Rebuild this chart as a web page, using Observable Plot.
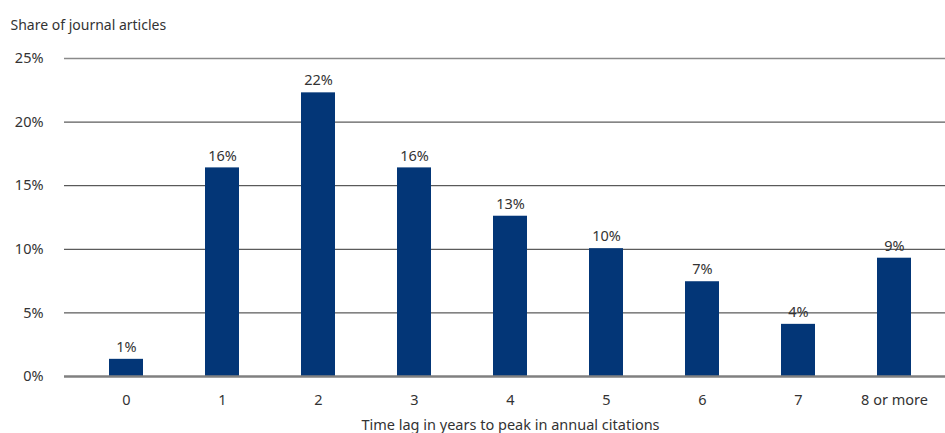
<!DOCTYPE html>
<html>
<head>
<meta charset="utf-8">
<script src="https://cdn.jsdelivr.net/npm/d3@7"></script>
<script src="https://cdn.jsdelivr.net/npm/@observablehq/plot@0.6"></script>
<style>
  html, body { margin: 0; padding: 0; background: #fff; }
  #chart svg { display: block; }
</style>
</head>
<body>
<div id="chart"></div>
<script>
const categories = ["0", "1", "2", "3", "4", "5", "6", "7", "8 or more"];
const values = [1.35, 16.4, 22.3, 16.4, 12.6, 10.05, 7.45, 4.1, 9.3];
const valueLabels = ["1%", "16%", "22%", "16%", "13%", "10%", "7%", "4%", "9%"];
const yTicks = [0, 5, 10, 15, 20, 25];
const yTitle = "Share of journal articles";
const xTitle = "Time lag in years to peak in annual citations";

const data = categories.map((c, i) => ({cat: c, value: values[i], label: valueLabels[i]}));
const font = "'Noto Sans', 'Open Sans', sans-serif";

const chart = Plot.plot({
  width: 945,
  height: 433,
  marginLeft: 78,
  marginRight: 3,
  marginTop: 58,
  marginBottom: 57,
  style: {fontFamily: font, fontSize: "14.5px", color: "#333", background: "#fff"},
  x: {domain: categories, paddingInner: 0.646, paddingOuter: 0.323, label: null, tickSize: 0, tickPadding: 18},
  y: {domain: [0, 25], ticks: yTicks, tickFormat: d => d + "%", label: null, tickSize: 0, tickPadding: 35},
  marks: [
    Plot.ruleY(yTicks.filter(t => t > 0 && t < 25), {stroke: "#333", strokeWidth: 1, insetLeft: -14, insetRight: -3}),
    Plot.ruleY([25], {stroke: "#8a8a8a", strokeWidth: 1.5, insetLeft: -14, insetRight: -3}),
    Plot.barY(data, {x: "cat", y: "value", fill: "#033677"}),
    Plot.ruleY([0], {stroke: "#808080", strokeWidth: 2.5, insetLeft: -14, insetRight: -3}),
    Plot.text(data, {x: "cat", y: "value", text: "label", dy: -12, fill: "#333", fontSize: 14.5}),
    Plot.text([yTitle], {frameAnchor: "top-left", dx: -68, dy: -38, textAnchor: "start", fill: "#333", fontSize: 14}),
    Plot.text([xTitle], {frameAnchor: "bottom", dx: 0, dy: 53, fill: "#333", fontSize: 14.5})
  ]
});
document.getElementById("chart").appendChild(chart);
</script>
</body>
</html>
